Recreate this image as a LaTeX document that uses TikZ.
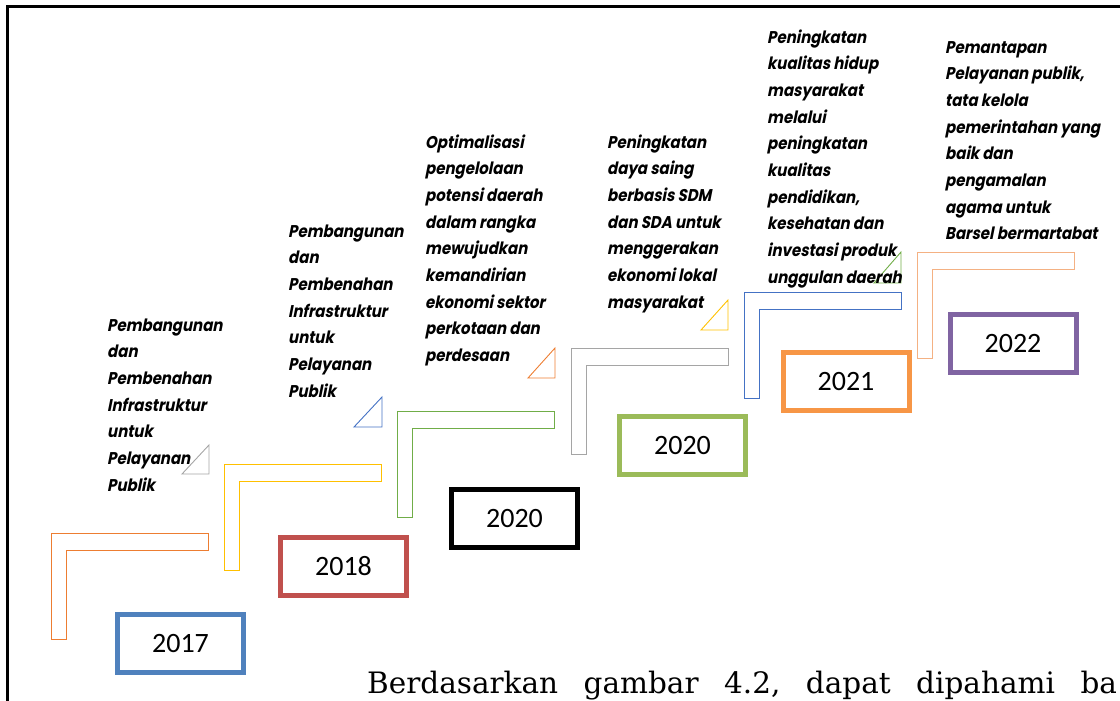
\documentclass[tikz,border=0pt]{standalone}
\usepackage{fontspec}
\newfontfamily\descfont{Poppins}[FakeSlant=0.2,FakeStretch=0.88]
\newfontfamily\yearfont{Carlito}
\newfontfamily\bodyfont{DejaVu Serif}
\newcommand\widespace{\spaceskip=25.5pt\relax}
\definecolor{ofOrange}{HTML}{ED7D31}
\definecolor{ofGold}{HTML}{FFC000}
\definecolor{ofGreen}{HTML}{70AD47}
\definecolor{ofGray}{HTML}{A5A5A5}
\definecolor{ofBlue}{HTML}{4472C4}
\definecolor{ofPeach}{HTML}{F4B183}
\definecolor{yrBlue}{HTML}{4F81BD}
\definecolor{yrRed}{HTML}{C0504D}
\definecolor{yrGreen}{HTML}{9BBB59}
\definecolor{yrOrange}{HTML}{F79646}
\definecolor{yrPurple}{HTML}{8064A2}
\tikzset{
  desc/.style={anchor=base west,align=left,inner sep=0pt,
    font=\descfont\bfseries\fontsize{17}{26.7}\selectfont},
  yearbox/.style={draw,line width=5pt,minimum width=126pt,minimum height=58pt,
    inner sep=0pt,font=\yearfont\fontsize{28}{30}\selectfont},
  stair/.style={line width=0.9pt},
  flag/.style={line width=0.9pt}
}
\begin{document}
\begin{tikzpicture}[x=1pt,y=-1pt]
\useasboundingbox (0,0) rectangle (1120,701);
\clip (0,0) rectangle (1120,701);
\draw[line width=2.8pt] (1120,6.2) -- (7.8,6.2) -- (7.8,701);

% steps
\draw[stair,ofOrange] (51,533) -- ++(157,0) -- ++(0,17) -- ++(-142,0) -- ++(0,89) -- ++(-15,0) -- cycle;
\draw[stair,ofGold] (224,464) -- ++(157,0) -- ++(0,17) -- ++(-142,0) -- ++(0,89) -- ++(-15,0) -- cycle;
\draw[stair,ofGreen] (397,411) -- ++(157,0) -- ++(0,17) -- ++(-142,0) -- ++(0,89) -- ++(-15,0) -- cycle;
\draw[stair,ofGray] (571,348) -- ++(157,0) -- ++(0,17) -- ++(-142,0) -- ++(0,89) -- ++(-15,0) -- cycle;
\draw[stair,ofBlue] (744,292) -- ++(157,0) -- ++(0,17) -- ++(-142,0) -- ++(0,89) -- ++(-15,0) -- cycle;
\draw[stair,ofPeach] (917,252) -- ++(157,0) -- ++(0,17) -- ++(-142,0) -- ++(0,89) -- ++(-15,0) -- cycle;

% flags
\draw[flag,ofGray] (182,474) -- (209,474) -- (209,445) -- cycle;
\draw[flag,ofBlue] (354,427) -- (382,427) -- (382,397) -- cycle;
\draw[flag,ofOrange] (528,378) -- (555,378) -- (555,348) -- cycle;
\draw[flag,ofGold] (701,330) -- (728,330) -- (728,300) -- cycle;
\draw[flag,ofGreen] (874,283) -- (901,283) -- (901,252) -- cycle;

% years
\node[yearbox,yrBlue,text=black] (y2017) at (180.5,643.5) {2017};
\node[yearbox,yrRed,text=black] (y2018) at (343.5,566.5) {2018};
\node[yearbox,black] (y2020a) at (514.5,518.5) {2020};
\node[yearbox,yrGreen,text=black] (y2020b) at (682.5,445.5) {2020};
\node[yearbox,yrOrange,text=black] (y2021) at (846,381.5) {2021};
\node[yearbox,yrPurple,text=black] (y2022) at (1013,343.5) {2022};

% descriptions (anchored on the last line)
\node[desc] (t2017) at (107,491.2) {Pembangunan\\dan\\Pembenahan\\Infrastruktur\\untuk\\Pelayanan\\Publik};
\node[desc] (t2018) at (288,397.2) {Pembangunan\\dan\\Pembenahan\\Infrastruktur\\untuk\\Pelayanan\\Publik};
\node[desc] (t2020a) at (425,361.6) {Optimalisasi\\pengelolaan\\potensi daerah\\dalam rangka\\mewujudkan\\kemandirian\\ekonomi sektor\\perkotaan dan\\perdesaan};
\node[desc] (t2020b) at (607,308.2) {Peningkatan\\daya saing\\berbasis SDM\\dan SDA untuk\\menggerakan\\ekonomi lokal\\masyarakat};
\node[desc] (t2021) at (767,283.3) {Peningkatan\\kualitas hidup\\masyarakat\\melalui\\peningkatan\\kualitas\\pendidikan,\\kesehatan dan\\investasi produk\\unggulan daerah};
\node[desc] (t2022) at (945,239.9) {Pemantapan\\Pelayanan publik,\\tata kelola\\pemerintahan yang\\baik dan\\pengamalan\\agama untuk\\Barsel bermartabat};

\node[anchor=base west,inner sep=0pt,font=\bodyfont\fontsize{29.5}{34}\selectfont\widespace] (body) at (367,693) {Berdasarkan gambar 4.2, dapat dipahami ba};
\end{tikzpicture}
\end{document}
